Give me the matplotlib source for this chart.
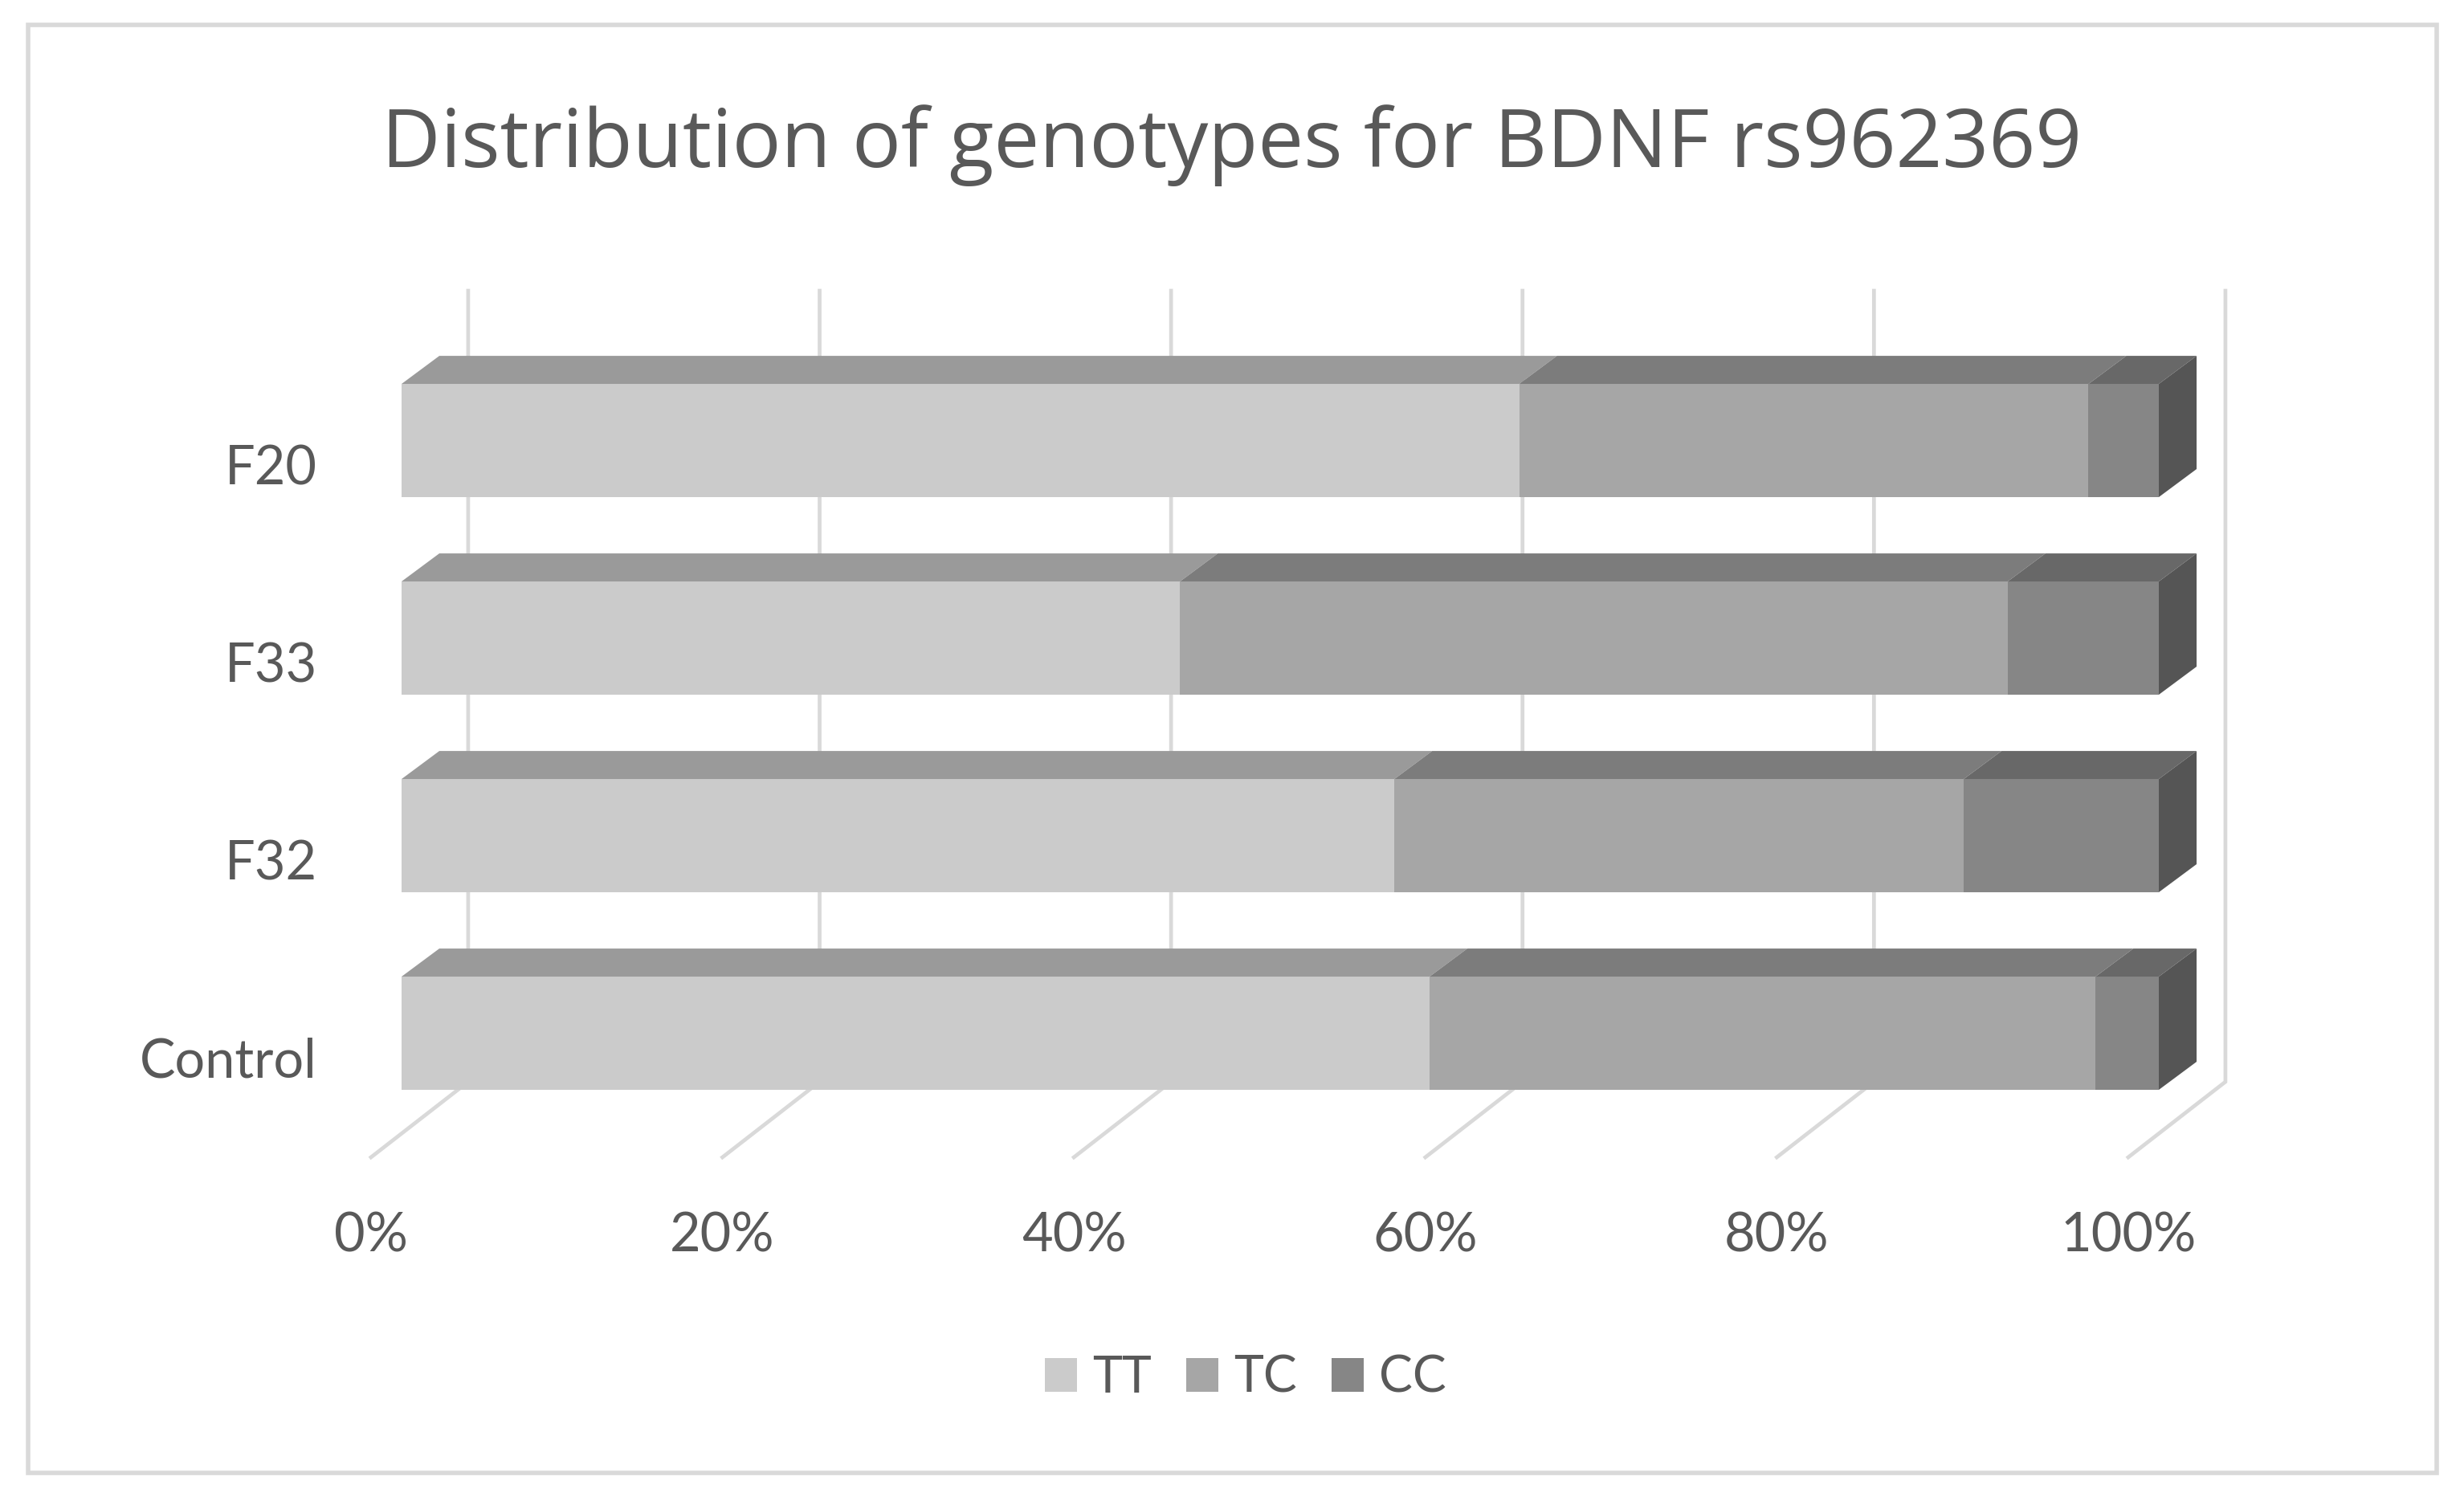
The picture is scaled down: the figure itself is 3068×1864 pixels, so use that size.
import numpy as np
import matplotlib
matplotlib.use('Agg')
import matplotlib.pyplot as plt
from matplotlib.patches import Polygon, Rectangle, Patch

plt.rcParams['font.family'] = ['Lato', 'DejaVu Sans']

# Data (percent)
groups = ['Control', 'F32', 'F33', 'F20']
tt = [58.5, 56.5, 44.3, 63.6]
tc = [37.9, 32.4, 47.1, 32.4]
cc = [3.6, 11.1, 8.6, 4.0]
series_names = ['TT', 'TC', 'CC']
x_ticks = [0, 20, 40, 60, 80, 100]

# Colours: front, top of each segment, and the end cap
front_cols = ['#cbcbcb', '#a6a6a6', '#868686']
top_cols = ['#9a9a9a', '#7c7c7c', '#686868']
side_col = '#555555'
grid_col = '#d9d9d9'
text_col = '#595959'

W, H = 3068, 1864
fig = plt.figure(figsize=(W / 100, H / 100), dpi=100, facecolor='white')

# x: 21.88 px per percent, 0% at px 500. y: 246 px per category, Control at px 1286.5
xlim = (-5, 105)
ylim = (-0.5, 3.5)
left = 500 + xlim[0] * 21.88
width = (xlim[1] - xlim[0]) * 21.88
top_px = 1286.5 - ylim[1] * 246
bottom_px = 1286.5 - ylim[0] * 246
ax = fig.add_axes([left / W, 1 - bottom_px / H, width / W, (bottom_px - top_px) / H])
ax.set_xlim(*xlim)
ax.set_ylim(*ylim)
ax.patch.set_alpha(0)
for s in ax.spines.values():
    s.set_visible(False)

# 3D look, offsets in data units
depth_x, depth_y = 2.15, 0.142      # bar depth
wall_x = 3.79                       # back wall shift
wall_top, wall_bottom = 3.758, -0.246
floor_x, floor_y = -1.74, -0.628    # front end of floor lines
bar_h = 0.573

# back wall and floor lines
for t in x_ticks:
    ax.plot([t + floor_x, t + wall_x, t + wall_x], [floor_y, wall_bottom, wall_top],
            color=grid_col, lw=3.4, solid_joinstyle='miter', clip_on=False, zorder=1)

y = np.arange(len(groups))
values = [np.array(tt), np.array(tc), np.array(cc)]
start = np.zeros(len(groups))
for name, vals, fc, tcol in zip(series_names, values, front_cols, top_cols):
    ax.barh(y, vals, left=start, height=bar_h, color=fc, linewidth=0, zorder=3, label=name)
    for yi, a, b in zip(y, start, start + vals):
        ytop = yi + bar_h / 2
        ax.add_patch(Polygon([(a, ytop), (b, ytop), (b + depth_x, ytop + depth_y),
                              (a + depth_x, ytop + depth_y)],
                             closed=True, fc=tcol, ec='none', zorder=3, clip_on=False))
    start = start + vals

# end caps
for yi, end in zip(y, start):
    ax.add_patch(Polygon([(end, yi - bar_h / 2), (end + depth_x, yi - bar_h / 2 + depth_y),
                          (end + depth_x, yi + bar_h / 2 + depth_y), (end, yi + bar_h / 2)],
                         closed=True, fc=side_col, ec='none', zorder=3, clip_on=False))

# tick labels sit under the floor lines and a little below the bar centres
ax.set_xticks(np.array(x_ticks) + floor_x)
ax.set_xticklabels([f'{t}%' for t in x_ticks])
ax.set_yticks(y - 0.12)
ax.set_yticklabels(groups)
ax.tick_params(axis='x', length=0, pad=71, labelsize=48, labelcolor=text_col)
ax.tick_params(axis='y', length=0, pad=-3, labelsize=48, labelcolor=text_col)

# Open Sans has the two-storey g of the original title
fig.text(1534 / W, 1 - 208 / H, 'Distribution of genotypes for BDNF rs962369',
         ha='center', va='baseline', fontsize=73, color=text_col, family=['Open Sans', 'DejaVu Sans'])

handles = [Patch(facecolor=c, edgecolor='none', label=n) for c, n in zip(front_cols, series_names)]
fig.legend(handles=handles, loc='center', bbox_to_anchor=(1551 / W, 1 - 1716 / H), ncol=3,
           frameon=False, fontsize=45, labelcolor=text_col, handlelength=0.64, handleheight=0.64,
           handletextpad=0.3, columnspacing=0.7, borderpad=0, borderaxespad=0)

# chart frame
fig.add_artist(Rectangle((35 / W, 1 - 1834 / H), (3034 - 35) / W, (1834 - 31) / H,
                         transform=fig.transFigure, fill=False, ec=grid_col, lw=4))

fig.savefig('out.png', dpi=100)
